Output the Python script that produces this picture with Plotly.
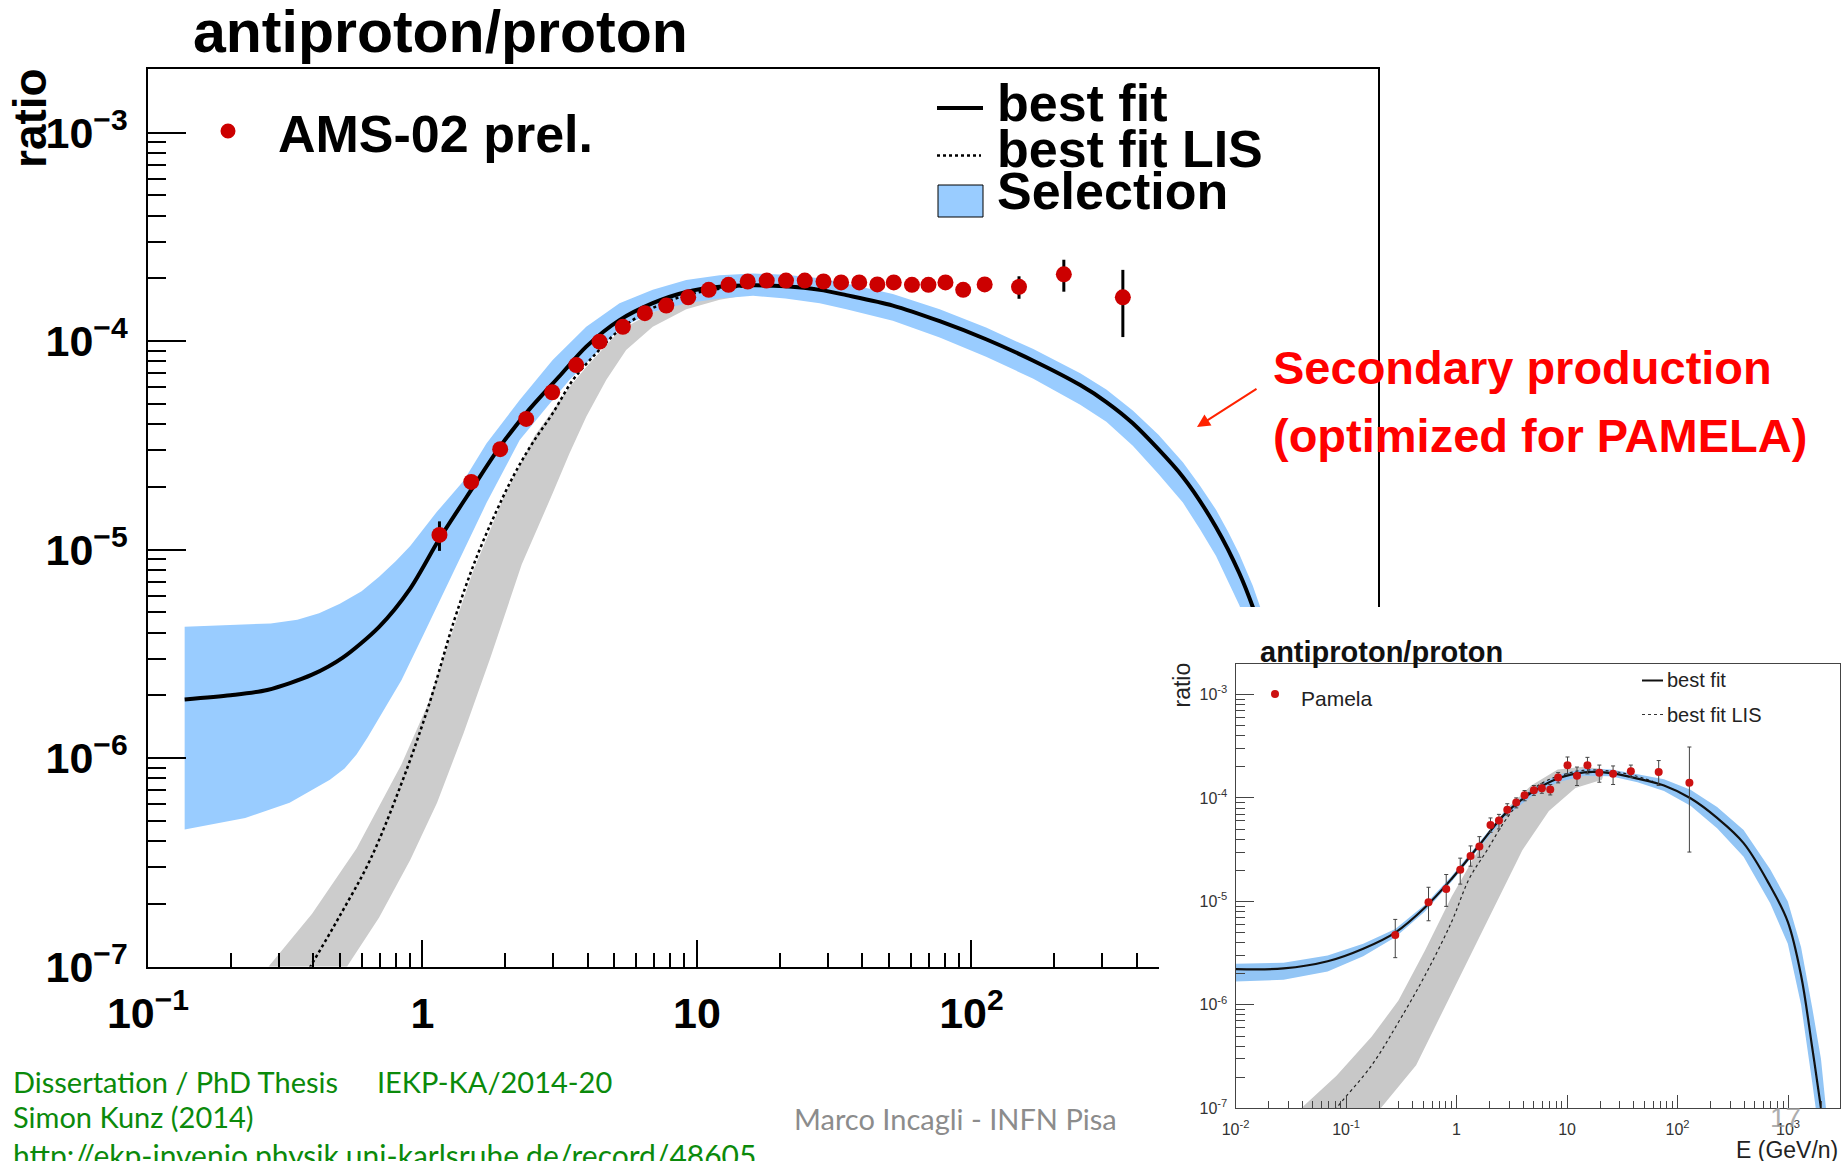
import plotly.graph_objects as go

W, H = 1845, 1161

# ---------------- main panel: AMS-02 preliminary antiproton/proton ----------------
ams_energy = [1.153, 1.505, 1.919, 2.387, 2.968, 3.63, 4.416, 5.37, 6.46, 7.73, 9.29, 11.04,
              13.03, 15.3, 17.95, 21.1, 24.7, 28.9, 33.5, 39.0, 45.4, 52.1, 60.7, 69.7,
              80.4, 93.3, 111.7, 149, 217, 356]
ams_ratio = [1.175e-5, 2.11e-5, 3.03e-5, 4.23e-5, 5.68e-5, 7.67e-5, 9.93e-5, 1.17e-4, 1.36e-4,
             1.48e-4, 1.62e-4, 1.76e-4, 1.86e-4, 1.93e-4, 1.95e-4, 1.95e-4, 1.95e-4, 1.93e-4,
             1.91e-4, 1.91e-4, 1.87e-4, 1.91e-4, 1.86e-4, 1.86e-4, 1.91e-4, 1.76e-4, 1.87e-4,
             1.82e-4, 2.09e-4, 1.62e-4]
ams_err = [1.9e-6, 8e-7, 1e-6, 1.2e-6, 1.5e-6, 2e-6, 2.5e-6, 3e-6, 3.5e-6, 4e-6, 4.4e-6, 4.8e-6,
           5e-6, 5.3e-6, 5.5e-6, 5.7e-6, 6e-6, 6.2e-6, 6.5e-6, 6.8e-6, 7e-6, 7.5e-6, 8e-6, 8.5e-6,
           9e-6, 1.0e-5, 1.2e-5, 2.25e-5, 3.65e-5, 5.75e-5]

# best fit (modulated)
fit_energy = [0.136, 0.2, 0.272, 0.396, 0.514, 0.695, 0.902, 1.15, 1.52, 1.91, 2.45, 3.16, 3.95,
              5.22, 6.9, 9.14, 12.1, 16.0, 21, 28, 35, 51.7, 76.6, 113, 168, 249, 310, 387, 589,
              778, 946, 1059, 1150, 1300]
fit_ratio = [1.91e-6, 2.0e-6, 2.12e-6, 2.51e-6, 3.04e-6, 4.26e-6, 6.5e-6, 1.12e-5, 1.97e-5,
             3.1e-5, 4.7e-5, 6.8e-5, 9.4e-5, 1.26e-4, 1.52e-4, 1.72e-4, 1.82e-4, 1.85e-4,
             1.83e-4, 1.76e-4, 1.66e-4, 1.48e-4, 1.245e-4, 1.02e-4, 8.05e-5, 6.15e-5, 5.1e-5,
             4.03e-5, 2.23e-5, 1.28e-5, 7.7e-6, 5.3e-6, 3.8e-6, 2.0e-6]

# selection band (upper / lower edge)
sel_hi_energy = [0.136, 0.2, 0.28, 0.35, 0.42, 0.5, 0.6, 0.695, 0.8, 0.902, 1.13, 1.41, 1.71,
                 2.26, 2.98, 3.95, 5.22, 6.9, 9.14, 12.1, 16.0, 21, 28, 35, 51.7, 76.6, 113,
                 168, 249, 310, 387, 480, 589, 680, 778, 860, 946, 1059, 1150, 1300]
sel_hi = [4.26e-6, 4.33e-6, 4.42e-6, 4.6e-6, 4.95e-6, 5.5e-6, 6.3e-6, 7.4e-6, 8.8e-6, 1.04e-5,
          1.52e-5, 2.13e-5, 3.23e-5, 5.21e-5, 8.11e-5, 1.17e-4, 1.52e-4, 1.76e-4, 1.96e-4,
          2.07e-4, 2.11e-4, 2.08e-4, 2.0e-4, 1.89e-4, 1.68e-4, 1.42e-4, 1.16e-4, 9.15e-5,
          7.0e-5, 5.85e-5, 4.65e-5, 3.55e-5, 2.62e-5, 2.02e-5, 1.55e-5, 1.22e-5, 9.5e-6, 6.7e-6,
          4.9e-6, 3.0e-6]
sel_lo_energy = [0.136, 0.226, 0.328, 0.46, 0.52, 0.575, 0.63, 0.695, 0.838, 1.01, 1.22, 1.47,
                 1.71, 2.26, 2.98, 3.43, 3.95, 5.22, 6.9, 9.14, 12.1, 16.0, 21, 28, 35, 51.7,
                 76.6, 113, 168, 249, 310, 387, 480, 589, 680, 778, 860, 946, 1059, 1150, 1300]
sel_lo = [4.54e-7, 5.15e-7, 6.1e-7, 7.87e-7, 8.9e-7, 1.04e-6, 1.25e-6, 1.55e-6, 2.36e-6,
          3.92e-6, 6.5e-6, 1.1e-5, 1.67e-5, 3.35e-5, 5.21e-5, 6.5e-5, 7.82e-5, 1.15e-4,
          1.38e-4, 1.52e-4, 1.6e-4, 1.65e-4, 1.6e-4, 1.52e-4, 1.42e-4, 1.25e-4, 1.04e-4,
          8.4e-5, 6.6e-5, 4.95e-5, 4.1e-5, 3.15e-5, 2.3e-5, 1.68e-5, 1.25e-5, 9.3e-6, 7.1e-6,
          5.4e-6, 3.6e-6, 2.5e-6, 1.4e-6]

# best fit, local interstellar spectrum
lis_energy = [0.36, 0.396, 0.496, 0.644, 0.838, 1.05, 1.31, 1.58, 1.95, 2.2, 2.52, 2.98, 3.53,
              4.29, 5.22, 6.9, 9.14, 12.1, 16, 21, 28]
lis_ratio = [8.3e-8, 1.03e-7, 1.72e-7, 3.24e-7, 7.54e-7, 1.76e-6, 4.65e-6, 9.3e-6, 1.75e-5,
             2.4e-5, 3.25e-5, 4.5e-5, 6.5e-5, 8.73e-5, 1.13e-4, 1.44e-4, 1.66e-4, 1.78e-4,
             1.84e-4, 1.84e-4, 1.77e-4]
lis_hi_energy = [0.25, 0.277, 0.396, 0.575, 0.838, 1.05, 1.22, 1.52, 1.98, 2.57, 3.43, 3.95,
                 5.22, 6.9, 9.14, 12.1, 16]
lis_hi = [8.2e-8, 1.01e-7, 1.79e-7, 3.68e-7, 9.31e-7, 1.83e-6, 3.31e-6, 7.71e-6, 1.79e-5,
          3.53e-5, 6.0e-5, 7.5e-5, 1.12e-4, 1.38e-4, 1.55e-4, 1.65e-4, 1.7e-4]
lis_lo_energy = [0.50, 0.534, 0.695, 0.902, 1.13, 1.41, 1.77, 2.30, 2.98, 3.43, 3.95, 4.67,
                 5.52, 6.9, 9.14, 12.1, 16]
lis_lo = [8.5e-8, 1.01e-7, 1.72e-7, 3.24e-7, 6.1e-7, 1.31e-6, 3.04e-6, 8.5e-6, 1.86e-5,
          2.89e-5, 4.34e-5, 6.5e-5, 9.06e-5, 1.17e-4, 1.42e-4, 1.58e-4, 1.68e-4]

# ---------------- inset: fit optimized for PAMELA ----------------
pam_energy = [0.279, 0.558, 0.807, 1.08, 1.34, 1.61, 2.03, 2.42, 2.88, 3.47, 4.13, 5.01, 5.92,
              7.05, 8.31, 10.1, 12.3, 15.3, 19.6, 26.1, 37.8, 67.5, 128]
pam_ratio = [4.73e-6, 9.84e-6, 1.32e-5, 2.02e-5, 2.75e-5, 3.39e-5, 5.47e-5, 6.07e-5, 7.7e-5,
             9.02e-5, 1.06e-4, 1.19e-4, 1.24e-4, 1.21e-4, 1.58e-4, 2.07e-4, 1.64e-4, 2.07e-4,
             1.75e-4, 1.71e-4, 1.81e-4, 1.78e-4, 1.40e-4]
pam_err_up = [1.97e-6, 3.86e-6, 5.0e-6, 6.0e-6, 6.9e-6, 8.4e-6, 9.4e-6, 8.7e-6, 1.1e-5, 1.0e-5,
              1.2e-5, 1.3e-5, 1.3e-5, 1.4e-5, 1.8e-5, 4.2e-5, 3.5e-5, 4.0e-5, 3.3e-5, 3.3e-5,
              2.7e-5, 5.2e-5, 1.71e-4]
pam_err_dn = [1.87e-6, 3.34e-6, 4.25e-6, 5.5e-6, 5.6e-6, 7.2e-6, 8.2e-6, 1.05e-5, 8.7e-6,
              1.0e-5, 1.2e-5, 1.3e-5, 1.3e-5, 1.4e-5, 1.8e-5, 3.6e-5, 3.2e-5, 3.6e-5, 3.3e-5,
              3.6e-5, 2.3e-5, 4.6e-5, 1.1e-4]

ins_fit_energy = [0.01, 0.0272, 0.0682, 0.143, 0.279, 0.518, 0.901, 1.57, 2.72, 4.74, 8.24, 14.3,
                  24.9, 43.4, 75.4, 131, 228, 396, 689, 995, 1312, 1652, 1986, 2150]
ins_fit_ratio = [2.22e-6, 2.25e-6, 2.64e-6, 3.49e-6, 5.0e-6, 8.73e-6, 1.65e-5, 3.39e-5, 6.94e-5,
                 1.12e-4, 1.54e-4, 1.77e-4, 1.74e-4, 1.54e-4, 1.32e-4, 9.93e-5, 6.41e-5, 3.66e-5,
                 1.41e-5, 6.35e-6, 1.92e-6, 3.9e-7, 1.0e-7, 5.0e-8]
ins_sel_hi_energy = [0.01, 0.0272, 0.0682, 0.143, 0.279, 0.518, 0.901, 1.57, 2.72, 4.74, 8.24,
                     14.3, 24.9, 43.4, 75.4, 131, 228, 396, 689, 995, 1312, 1652, 1986, 2250]
ins_sel_hi = [2.5e-6, 2.55e-6, 3.0e-6, 3.9e-6, 5.4e-6, 9.3e-6, 1.75e-5, 3.6e-5, 7.4e-5, 1.21e-4,
              1.68e-4, 1.92e-4, 1.88e-4, 1.7e-4, 1.52e-4, 1.2e-4, 8.2e-5, 4.9e-5, 2.05e-5,
              1.0e-5, 3.6e-6, 9.5e-7, 3.0e-7, 8.0e-8]
ins_sel_lo_energy = [0.01, 0.0272, 0.0682, 0.143, 0.279, 0.518, 0.901, 1.57, 2.72, 4.74, 8.24,
                     14.3, 24.9, 43.4, 75.4, 131, 228, 396, 689, 995, 1312, 1652, 1900]
ins_sel_lo = [1.68e-6, 1.75e-6, 2.1e-6, 2.95e-6, 4.5e-6, 8.0e-6, 1.55e-5, 3.2e-5, 6.5e-5,
              1.03e-4, 1.42e-4, 1.64e-4, 1.62e-4, 1.42e-4, 1.17e-4, 8.4e-5, 5.1e-5, 2.7e-5,
              9.6e-6, 3.9e-6, 1.0e-6, 1.8e-7, 6.0e-8]

ins_lis_energy = [0.075, 0.082, 0.171, 0.298, 0.518, 0.902, 1.30, 1.89, 2.72, 4.0, 6.0, 9.0, 14,
                  25, 40, 60]
ins_lis_ratio = [8.5e-8, 1.0e-7, 2.61e-7, 6.79e-7, 1.92e-6, 6.34e-6, 1.65e-5, 3.13e-5, 5.92e-5,
                 1.0e-4, 1.4e-4, 1.67e-4, 1.85e-4, 1.82e-4, 1.65e-4, 1.45e-4]
ins_lis_hi_energy = [0.036, 0.0393, 0.082, 0.171, 0.298, 0.518, 0.902, 1.57, 2.72, 4.74, 8.24,
                     14, 22]
ins_lis_hi = [8.5e-8, 1.0e-7, 2.06e-7, 4.94e-7, 1.1e-6, 3.36e-6, 1.11e-5, 3.13e-5, 7.51e-5,
              1.32e-4, 1.88e-4, 2.0e-4, 1.9e-4]
ins_lis_lo_energy = [0.19, 0.206, 0.431, 0.75, 1.30, 2.26, 3.94, 6.85, 11.9, 20.7]
ins_lis_lo = [8.5e-8, 1.0e-7, 2.61e-7, 8.65e-7, 2.86e-6, 9.46e-6, 3.13e-5, 7.5e-5, 1.25e-4,
              1.5e-4]

# ---------------- tick labels ----------------
main_xtickvals = [0.1, 1, 10, 100, 1000]
main_xticktext = ["10<sup>\u22121</sup>", "1", "10", "10<sup>2</sup>", "10<sup>3</sup>"]
main_ytickvals = [1e-7, 1e-6, 1e-5, 1e-4, 1e-3]
main_yticktext = ["10<sup>\u22127</sup>", "10<sup>\u22126</sup>", "10<sup>\u22125</sup>",
                  "10<sup>\u22124</sup>", "10<sup>\u22123</sup>"]
ins_xtickvals = [0.01, 0.1, 1, 10, 100, 1000]
ins_xticktext = ["10<sup>-2</sup>", "10<sup>-1</sup>", "1", "10", "10<sup>2</sup>", "10<sup>3</sup>"]
ins_ytickvals = [1e-7, 1e-6, 1e-5, 1e-4, 1e-3]
ins_yticktext = ["10<sup>-7</sup>", "10<sup>-6</sup>", "10<sup>-5</sup>", "10<sup>-4</sup>",
                 "10<sup>-3</sup>"]

# ---------------- styling ----------------
FONT = "Liberation Sans, Arial, Helvetica, sans-serif"
SLIDE_FONT = "Lato, Open Sans, sans-serif"
BLUE = "#99CCFF"
GRAY = "#CCCCCC"
RED = "#CC0000"


def px(x):
    return x / W


def py(y):
    return 1 - y / H


def band(x_hi, y_hi, x_lo, y_lo):
    return list(x_hi) + list(x_lo)[::-1], list(y_hi) + list(y_lo)[::-1]


def minor_log(lo, hi):
    return [m * 10.0 ** e for e in range(lo, hi) for m in range(2, 10)]


fig = go.Figure()

# main panel traces
bx, by = band(lis_hi_energy, lis_hi, lis_lo_energy, lis_lo)
fig.add_trace(go.Scatter(x=bx, y=by, fill="toself", fillcolor=GRAY, mode="lines",
                         line=dict(width=0), hoverinfo="skip", showlegend=False,
                         xaxis="x", yaxis="y"))
bx, by = band(sel_hi_energy, sel_hi, sel_lo_energy, sel_lo)
fig.add_trace(go.Scatter(x=bx, y=by, fill="toself", fillcolor=BLUE, mode="lines",
                         line=dict(width=0), hoverinfo="skip", showlegend=False,
                         xaxis="x", yaxis="y"))
fig.add_trace(go.Scatter(x=lis_energy, y=lis_ratio, mode="lines",
                         line=dict(color="black", width=2.5, dash="dot", shape="spline"),
                         hoverinfo="skip", showlegend=False, xaxis="x", yaxis="y"))
fig.add_trace(go.Scatter(x=fit_energy, y=fit_ratio, mode="lines",
                         line=dict(color="black", width=4, shape="spline", smoothing=0.8),
                         hoverinfo="skip", showlegend=False, xaxis="x", yaxis="y"))
fig.add_trace(go.Scatter(x=ams_energy, y=ams_ratio, mode="markers",
                         marker=dict(color=RED, size=16),
                         error_y=dict(type="data", array=ams_err, color="black",
                                      thickness=3, width=0),
                         hoverinfo="skip", showlegend=False, xaxis="x", yaxis="y"))

# white panel that holds the inset
fig.add_trace(go.Scatter(x=[-0.1, 1.1, 1.1, -0.1, -0.1], y=[-0.1, -0.1, 1.1, 1.1, -0.1],
                         fill="toself", fillcolor="white", mode="lines",
                         line=dict(width=0, color="white"), hoverinfo="skip",
                         showlegend=False, xaxis="x2", yaxis="y2"))

# inset traces
bx, by = band(ins_lis_hi_energy, ins_lis_hi, ins_lis_lo_energy, ins_lis_lo)
fig.add_trace(go.Scatter(x=bx, y=by, fill="toself", fillcolor="#C8C8C8", mode="lines",
                         line=dict(width=0), hoverinfo="skip", showlegend=False,
                         xaxis="x3", yaxis="y3"))
bx, by = band(ins_sel_hi_energy, ins_sel_hi, ins_sel_lo_energy, ins_sel_lo)
fig.add_trace(go.Scatter(x=bx, y=by, fill="toself", fillcolor="#92C5F5", mode="lines",
                         line=dict(width=0), hoverinfo="skip", showlegend=False,
                         xaxis="x3", yaxis="y3"))
fig.add_trace(go.Scatter(x=ins_lis_energy, y=ins_lis_ratio, mode="lines",
                         line=dict(color="#222", width=1.2, dash="dot", shape="spline"),
                         hoverinfo="skip", showlegend=False, xaxis="x3", yaxis="y3"))
fig.add_trace(go.Scatter(x=ins_fit_energy, y=ins_fit_ratio, mode="lines",
                         line=dict(color="#111", width=2.2, shape="spline"),
                         hoverinfo="skip", showlegend=False, xaxis="x3", yaxis="y3"))
fig.add_trace(go.Scatter(x=pam_energy, y=pam_ratio, mode="markers",
                         marker=dict(color="#CC1111", size=8),
                         error_y=dict(type="data", symmetric=False, array=pam_err_up,
                                      arrayminus=pam_err_dn, color="#444", thickness=1, width=2),
                         hoverinfo="skip", showlegend=False, xaxis="x3", yaxis="y3"))

main_x_dom = [px(148), px(1378)]
main_y_dom = [py(966.5), py(69.4)]
ins_x_dom = [px(1235.5), px(1840)]
ins_y_dom = [py(1108.3), py(663.5)]

fig.update_layout(
    template="none",
    width=W, height=H,
    margin=dict(l=0, r=0, t=0, b=0, autoexpand=False),
    paper_bgcolor="white", plot_bgcolor="white",
    showlegend=False,
    xaxis=dict(type="log", domain=main_x_dom, range=[-1, 3.481], anchor="y",
               automargin=False,
               showline=True, mirror=True, linecolor="black", linewidth=1.5,
               showgrid=False, zeroline=False,
               ticks="inside", ticklen=27, tickwidth=1.5, tickcolor="black",
               tickvals=main_xtickvals, ticktext=main_xticktext,
               tickfont=dict(family=FONT, size=43, color="black", weight="bold"),
               ticklabelstandoff=8,
               minor=dict(tickvals=minor_log(-1, 4), ticks="inside", ticklen=14,
                          tickwidth=1.5, tickcolor="black", showgrid=False)),
    yaxis=dict(type="log", domain=main_y_dom, range=[-7, -2.697], anchor="x",
               automargin=False,
               showline=True, mirror=True, linecolor="black", linewidth=1.5,
               showgrid=False, zeroline=False,
               ticks="inside", ticklen=38, tickwidth=1.5, tickcolor="black",
               tickvals=main_ytickvals, ticktext=main_yticktext,
               tickfont=dict(family=FONT, size=43, color="black", weight="bold"),
               ticklabelstandoff=10,
               minor=dict(tickvals=minor_log(-7, -3), ticks="inside", ticklen=18,
                          tickwidth=1.5, tickcolor="black", showgrid=False)),
    xaxis2=dict(domain=[px(1159), 1], range=[0, 1], visible=False, anchor="y2",
                automargin=False, fixedrange=True),
    yaxis2=dict(domain=[0, py(607)], range=[0, 1], visible=False, anchor="x2",
                automargin=False, fixedrange=True),
    xaxis3=dict(type="log", domain=ins_x_dom, range=[-2, 3.47], anchor="y3",
                automargin=False,
                showline=True, mirror=True, linecolor="#444", linewidth=1,
                showgrid=False, zeroline=False,
                ticks="inside", ticklen=13, tickwidth=1, tickcolor="#444",
                tickvals=ins_xtickvals, ticktext=ins_xticktext,
                tickfont=dict(family=FONT, size=16, color="#333"),
                ticklabelstandoff=6,
                minor=dict(tickvals=minor_log(-2, 4), ticks="inside", ticklen=7,
                           tickwidth=1, tickcolor="#444", showgrid=False)),
    yaxis3=dict(type="log", domain=ins_y_dom, range=[-7, -2.70], anchor="x3",
                automargin=False,
                showline=True, mirror=True, linecolor="#444", linewidth=1,
                showgrid=False, zeroline=False,
                ticks="inside", ticklen=18, tickwidth=1, tickcolor="#444",
                tickvals=ins_ytickvals, ticktext=ins_yticktext,
                tickfont=dict(family=FONT, size=16, color="#333"),
                ticklabelstandoff=4,
                minor=dict(tickvals=minor_log(-7, -3), ticks="inside", ticklen=9,
                           tickwidth=1, tickcolor="#444", showgrid=False)),
)


def text(s, x, y, size, color="black", bold=False, family=FONT, xanchor="left",
         angle=0, opacity=1.0):
    fig.add_annotation(text=s, x=px(x), y=py(y), xref="paper", yref="paper",
                       xanchor=xanchor, yanchor="middle", showarrow=False,
                       textangle=angle, opacity=opacity,
                       font=dict(family=family, size=size, color=color,
                                 weight="bold" if bold else "normal"))


# main panel titles and legend
text("antiproton/proton", 191, 32, 59, bold=True)
text("ratio", 30, 118, 46, bold=True, xanchor="center", angle=-90)
text("AMS-02 prel.", 276, 134, 52, bold=True)
text("best fit", 995, 103, 52, bold=True)
text("best fit LIS", 995, 149, 52, bold=True)
text("Selection", 995, 191, 52, bold=True)

shapes = [
    dict(type="circle", xref="paper", yref="paper", x0=px(220.5), x1=px(235.5),
         y0=py(138.5), y1=py(123.5), fillcolor=RED, line=dict(width=0)),
    dict(type="line", xref="paper", yref="paper", x0=px(937), x1=px(983), y0=py(108),
         y1=py(108), line=dict(color="black", width=4)),
    dict(type="line", xref="paper", yref="paper", x0=px(937), x1=px(981), y0=py(155.5),
         y1=py(155.5), line=dict(color="black", width=2.5, dash="dot")),
    dict(type="rect", xref="paper", yref="paper", x0=px(938), x1=px(983), y0=py(217),
         y1=py(185), fillcolor=BLUE, line=dict(color="black", width=1)),
    # inset legend keys
    dict(type="circle", xref="paper", yref="paper", x0=px(1271), x1=px(1279),
         y0=py(698), y1=py(690), fillcolor="#CC1111", line=dict(width=0)),
    dict(type="line", xref="paper", yref="paper", x0=px(1642), x1=px(1663), y0=py(680.5),
         y1=py(680.5), line=dict(color="#111", width=2)),
    dict(type="line", xref="paper", yref="paper", x0=px(1642), x1=px(1663), y0=py(714.5),
         y1=py(714.5), line=dict(color="#333", width=1, dash="dot")),
]
for s in shapes:
    s["layer"] = "above"
    fig.add_shape(**s)

# annotation on the right
text("Secondary production", 1271, 368, 47, color="#FF0000", bold=True)
text("(optimized for PAMELA)", 1271, 435, 47, color="#FF0000", bold=True)
fig.add_annotation(x=px(1197), y=py(427), xref="paper", yref="paper", text="",
                   showarrow=True, ax=61, ay=-39, arrowhead=2, arrowsize=1.3,
                   arrowwidth=2, arrowcolor="#FF2200", standoff=0)

# inset labels
text("antiproton/proton", 1258, 652, 29, color="#111", bold=True)
text("ratio", 1181, 685.5, 23, color="#222", xanchor="center", angle=-90)
text("Pamela", 1299, 698, 21, color="#222")
text("best fit", 1665, 680, 20, color="#222")
text("best fit LIS", 1665, 714.5, 20, color="#222")
text("E (GeV/n)", 1840, 1150, 23, color="#222", xanchor="right")
text("17", 1785, 1117, 28, color="#9a9a9a", xanchor="center", opacity=0.8)

# slide footer
GREEN = "#0B8A0B"
text("Dissertation / PhD Thesis", 11, 1081, 29, color=GREEN, family=SLIDE_FONT)
text("IEKP-KA/2014-20", 375, 1081, 29, color=GREEN, family=SLIDE_FONT)
text("Simon Kunz (2014)", 11, 1116, 29, color=GREEN, family=SLIDE_FONT)
text("http://ekp-invenio.physik.uni-karlsruhe.de/record/48605", 11, 1155, 30, color=GREEN,
     family=SLIDE_FONT)
text("Marco Incagli - INFN Pisa", 956, 1118, 29, color="#8c8c8c", family=SLIDE_FONT,
     xanchor="center")

fig.write_html("out.html")
